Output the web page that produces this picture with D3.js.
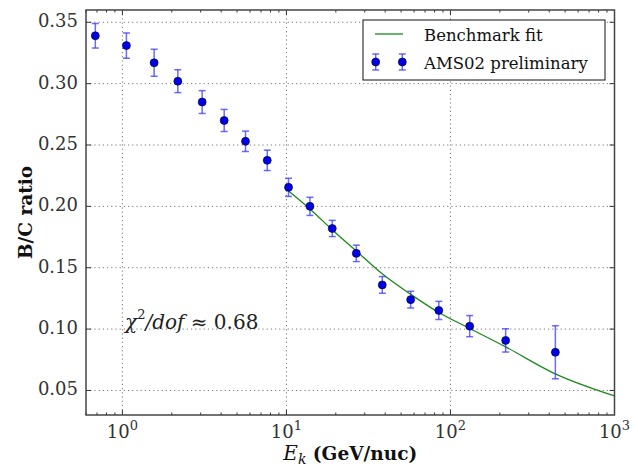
<!DOCTYPE html>
<html>
<head>
<meta charset="utf-8">
<script src="https://cdn.jsdelivr.net/npm/d3@7"></script>
<style>
  html, body { margin: 0; padding: 0; background: #fff; }
  svg text { font-family: "DejaVu Serif", serif; }
</style>
</head>
<body>
<svg id="chart" width="638" height="466"></svg>
<script>
// ---- data ----
const energy = [0.684, 1.058, 1.561, 2.178, 3.064, 4.174, 5.63, 7.64, 10.30, 13.91, 19.03, 26.67, 38.4, 57.2, 84.9, 131, 217, 436];
const bcRatio = [0.339, 0.331, 0.317, 0.302, 0.285, 0.270, 0.253, 0.2375, 0.2155, 0.200, 0.182, 0.1617, 0.136, 0.124, 0.1152, 0.1024, 0.0908, 0.0811];
const bcError = [0.010, 0.0103, 0.011, 0.0093, 0.0093, 0.009, 0.0083, 0.0083, 0.0074, 0.0074, 0.0066, 0.0067, 0.0068, 0.0068, 0.0074, 0.0086, 0.0095, 0.0216];
const fitEnergy = [10.3, 14, 19, 27, 38, 57, 85, 131, 217, 436, 1000];
const fitRatio = [0.2125, 0.1975, 0.181, 0.163, 0.1455, 0.1285, 0.1135, 0.1005, 0.0855, 0.0635, 0.0455];
const xMajorTicks = [1, 10, 100, 1000];
const xMajorExps = ["0", "1", "2", "3"];
const yTicks = [0.05, 0.10, 0.15, 0.20, 0.25, 0.30, 0.35];
const legendLabels = ["Benchmark fit", "AMS02 preliminary"];

// ---- layout ----
const W = 638, H = 466;
const m = { left: 86, top: 10, right: 23.5, bottom: 51 };
const iw = W - m.left - m.right, ih = H - m.top - m.bottom;
const svg = d3.select("#chart");
const g = svg.append("g").attr("transform", `translate(${m.left},${m.top})`);

const x = d3.scaleLog().domain([0.6, 1000]).range([0, iw]);
const y = d3.scaleLinear().domain([0.03, 0.36]).range([ih, 0]);

// minor ticks
const xMinor = [];
for (let d = -1; d <= 2; d++) {
  for (let k = 2; k <= 9; k++) {
    const v = k * Math.pow(10, d);
    if (v >= 0.6 && v <= 1000) xMinor.push(v);
  }
}

// grid
const grid = g.append("g").attr("stroke", "#777").attr("stroke-width", 1).attr("stroke-dasharray", "1.2,3");
grid.selectAll("line.gx").data(xMajorTicks.filter(v => v < 1000)).enter().append("line")
  .attr("x1", d => x(d)).attr("x2", d => x(d)).attr("y1", 0).attr("y2", ih);
grid.selectAll("line.gy").data(yTicks).enter().append("line")
  .attr("x1", 0).attr("x2", iw).attr("y1", d => y(d)).attr("y2", d => y(d));

// ticks (inside, all four sides)
const tk = g.append("g").attr("stroke", "#333").attr("stroke-width", 1);
xMajorTicks.forEach(v => {
  tk.append("line").attr("x1", x(v)).attr("x2", x(v)).attr("y1", ih).attr("y2", ih - 5);
  tk.append("line").attr("x1", x(v)).attr("x2", x(v)).attr("y1", 0).attr("y2", 5);
});
xMinor.forEach(v => {
  tk.append("line").attr("x1", x(v)).attr("x2", x(v)).attr("y1", ih).attr("y2", ih - 2.5);
  tk.append("line").attr("x1", x(v)).attr("x2", x(v)).attr("y1", 0).attr("y2", 2.5);
});
yTicks.forEach(v => {
  tk.append("line").attr("x1", 0).attr("x2", 5).attr("y1", y(v)).attr("y2", y(v));
  tk.append("line").attr("x1", iw).attr("x2", iw - 5).attr("y1", y(v)).attr("y2", y(v));
});

// fit line
const line = d3.line().x(d => x(d[0])).y(d => y(d[1])).curve(d3.curveMonotoneX);
g.append("path").datum(fitEnergy.map((e, i) => [e, fitRatio[i]]))
  .attr("d", line).attr("fill", "none").attr("stroke", "#1a8a1a").attr("stroke-width", 1.3);

// error bars + points
const pts = energy.map((e, i) => ({ e, v: bcRatio[i], err: bcError[i] }));
const eb = g.append("g").attr("stroke", "#3a3aff").attr("stroke-opacity", 0.75).attr("stroke-width", 1.5);
pts.forEach(p => {
  const cx = x(p.e);
  eb.append("line").attr("x1", cx).attr("x2", cx).attr("y1", y(p.v + p.err)).attr("y2", y(p.v - p.err));
  eb.append("line").attr("x1", cx - 3.5).attr("x2", cx + 3.5).attr("y1", y(p.v + p.err)).attr("y2", y(p.v + p.err));
  eb.append("line").attr("x1", cx - 3.5).attr("x2", cx + 3.5).attr("y1", y(p.v - p.err)).attr("y2", y(p.v - p.err));
});
g.append("g").selectAll("circle").data(pts).enter().append("circle")
  .attr("cx", d => x(d.e)).attr("cy", d => y(d.v)).attr("r", 4)
  .attr("fill", "#0000ee").attr("stroke", "#000").attr("stroke-width", 0.6);

// frame
g.append("rect").attr("x", 0).attr("y", 0).attr("width", iw).attr("height", ih)
  .attr("fill", "none").attr("stroke", "#444").attr("stroke-width", 1.5);

// y tick labels
g.append("g").selectAll("text").data(yTicks).enter().append("text")
  .attr("x", -8).attr("y", d => y(d) + 5).attr("text-anchor", "end")
  .attr("font-size", 18).attr("fill", "#333").text(d => d3.format(".2f")(d));

// x tick labels
xMajorTicks.forEach((v, i) => {
  const t = g.append("text").attr("x", x(v)).attr("y", ih + 23).attr("text-anchor", "middle")
    .attr("font-size", 18).attr("fill", "#333");
  t.append("tspan").text("10");
  t.append("tspan").attr("dy", -8).attr("font-size", 13).text(xMajorExps[i]);
});

// axis labels
const xl = svg.append("text").attr("x", m.left + iw / 2).attr("y", 460).attr("text-anchor", "middle")
  .attr("font-size", 18.5).attr("font-weight", "bold").attr("fill", "#111");
xl.append("tspan").attr("font-style", "italic").attr("font-weight", "normal").attr("font-size", 20).text("E");
xl.append("tspan").attr("font-style", "italic").attr("font-weight", "normal").attr("font-size", 14).attr("dy", 4).text("k");
xl.append("tspan").attr("dy", -4).text(" (GeV/nuc)");

svg.append("text").attr("transform", `translate(32,${m.top + ih / 2}) rotate(-90)`)
  .attr("text-anchor", "middle").attr("font-size", 18.5).attr("font-weight", "bold").attr("fill", "#111").text("B/C ratio");

// annotation
const an = g.append("text").attr("x", 125 - m.left).attr("y", 328.5 - m.top).attr("font-size", 20).attr("fill", "#222");
an.append("tspan").attr("font-style", "italic").text("χ");
an.append("tspan").attr("font-size", 13).attr("dy", -10).text("2");
an.append("tspan").attr("dy", 10).attr("font-style", "italic").text("/dof");
an.append("tspan").text(" ≈ 0.68");

// legend
const lg = svg.append("g");
lg.append("rect").attr("x", 363).attr("y", 20).attr("width", 242).attr("height", 60)
  .attr("fill", "#fff").attr("stroke", "#111").attr("stroke-width", 1);
lg.append("line").attr("x1", 375).attr("x2", 403).attr("y1", 34).attr("y2", 34)
  .attr("stroke", "#1a8a1a").attr("stroke-width", 1.3);
[375.7, 402.3].forEach(cx => {
  const cy = 62;
  lg.append("line").attr("x1", cx).attr("x2", cx).attr("y1", cy - 8).attr("y2", cy + 8)
    .attr("stroke", "#3a3aff").attr("stroke-opacity", 0.75).attr("stroke-width", 1.5);
  lg.append("line").attr("x1", cx - 3.5).attr("x2", cx + 3.5).attr("y1", cy - 8).attr("y2", cy - 8)
    .attr("stroke", "#3a3aff").attr("stroke-opacity", 0.75).attr("stroke-width", 1.5);
  lg.append("line").attr("x1", cx - 3.5).attr("x2", cx + 3.5).attr("y1", cy + 8).attr("y2", cy + 8)
    .attr("stroke", "#3a3aff").attr("stroke-opacity", 0.75).attr("stroke-width", 1.5);
  lg.append("circle").attr("cx", cx).attr("cy", cy).attr("r", 4)
    .attr("fill", "#0000ee").attr("stroke", "#000").attr("stroke-width", 0.6);
});
lg.append("text").attr("x", 424).attr("y", 41).attr("font-size", 16.5).attr("fill", "#111").text(legendLabels[0]);
lg.append("text").attr("x", 424).attr("y", 69).attr("font-size", 16.5).attr("fill", "#111").text(legendLabels[1]);
</script>
</body>
</html>
